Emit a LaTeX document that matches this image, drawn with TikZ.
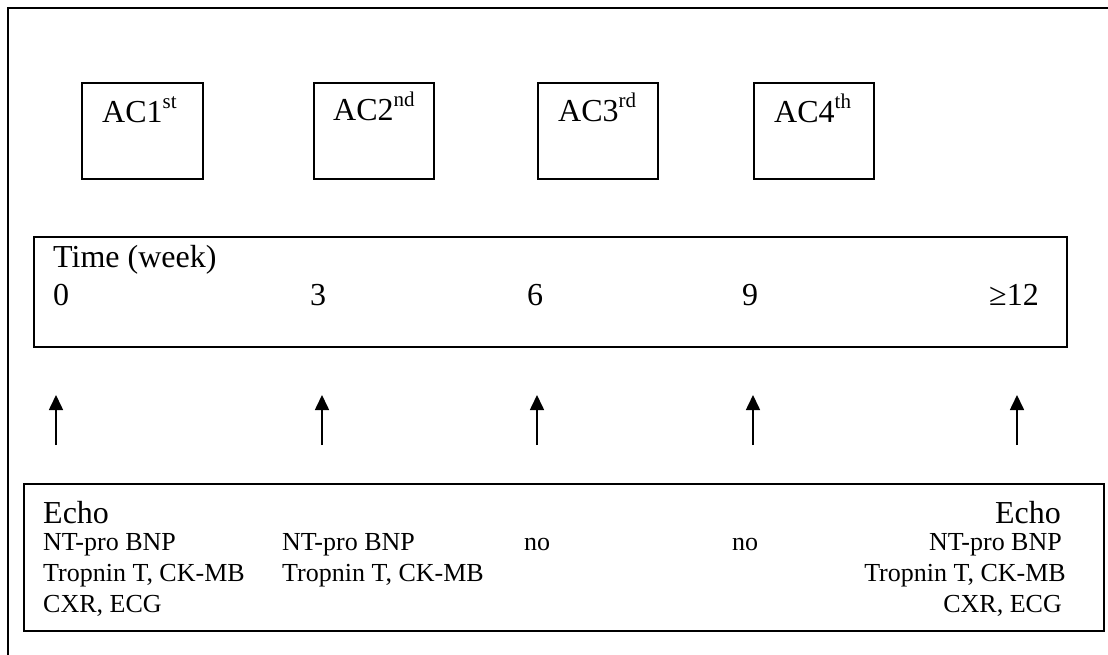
\documentclass[tikz,border=0pt]{standalone}
\usepackage{fontspec}
\setmainfont{Liberation Serif}
\usetikzlibrary{arrows.meta}
\newcommand\supx[1]{\raisebox{14pt}{\fontsize{21}{21}\selectfont #1}}
\begin{document}
\begin{tikzpicture}[x=1pt,y=-1pt,
  box/.style={draw, line width=2pt, inner sep=0pt, anchor=north west},
  big/.style={inner sep=0pt, anchor=base west, font=\fontsize{32}{38}\selectfont},
  small/.style={inner sep=0pt, anchor=base west, font=\fontsize{26}{31}\selectfont},
  smallr/.style={inner sep=0pt, anchor=base east, font=\fontsize{26}{31}\selectfont},
  bigr/.style={inner sep=0pt, anchor=base east, font=\fontsize{32}{38}\selectfont},
  arr/.style={line width=1.6pt, -{Triangle[length=15pt,width=14pt]}}]
\useasboundingbox (0,0) rectangle (1108,655);
% outer frame (top and left only)
\draw[line width=2.5pt] (8,655) -- (8,8) -- (1108,8);
% AC boxes
\node[box, minimum width=121pt, minimum height=96pt] (ac1) at (81,82) {};
\node[box, minimum width=120pt, minimum height=96pt] (ac2) at (313,82) {};
\node[box, minimum width=120pt, minimum height=96pt] (ac3) at (537,82) {};
\node[box, minimum width=120pt, minimum height=96pt] (ac4) at (753,82) {};
\node[big] (ac1t) at (102,123) {AC1\supx{st}};
\node[big] (ac2t) at (333,121) {AC2\supx{nd}};
\node[big] (ac3t) at (558,122) {AC3\supx{rd}};
\node[big] (ac4t) at (774,123) {AC4\supx{th}};
% time box
\node[box, minimum width=1033pt, minimum height=110pt] (time) at (33,236) {};
\node[big] (tl) at (53,267) {Time (week)};
\node[big] (t0) at (53,305) {0};
\node[big] (t3) at (310,305) {3};
\node[big] (t6) at (527,305) {6};
\node[big] (t9) at (742,305) {9};
\node[big] (t12) at (989,305) {≥12};
% arrows
\foreach \i/\x in {1/56,2/322,3/537,4/753,5/1017}{
  \coordinate (b\i) at (\x,445);
  \coordinate (u\i) at (\x,395);
  \draw[arr] (b\i) -- (u\i);
}
% bottom box
\node[box, minimum width=1080pt, minimum height=147pt] (tests) at (23,483) {};
\node[big] (e1) at (43,523) {Echo};
\node[small] (n1) at (43,550) {NT-pro BNP};
\node[small] (r1) at (43,581) {Tropnin T, CK-MB};
\node[small] (c1) at (43,612) {CXR, ECG};
\node[small] (n2) at (282,550) {NT-pro BNP};
\node[small] (r2) at (282,581) {Tropnin T, CK-MB};
\node[small] (no3) at (524,550) {no};
\node[small] (no4) at (732,550) {no};
\node[bigr] (e5) at (1061,523) {Echo};
\node[smallr] (n5) at (1062,550) {NT-pro BNP};
\node[smallr] (r5) at (1066,581) {Tropnin T, CK-MB};
\node[smallr] (c5) at (1062,612) {CXR, ECG};
\end{tikzpicture}
\end{document}
